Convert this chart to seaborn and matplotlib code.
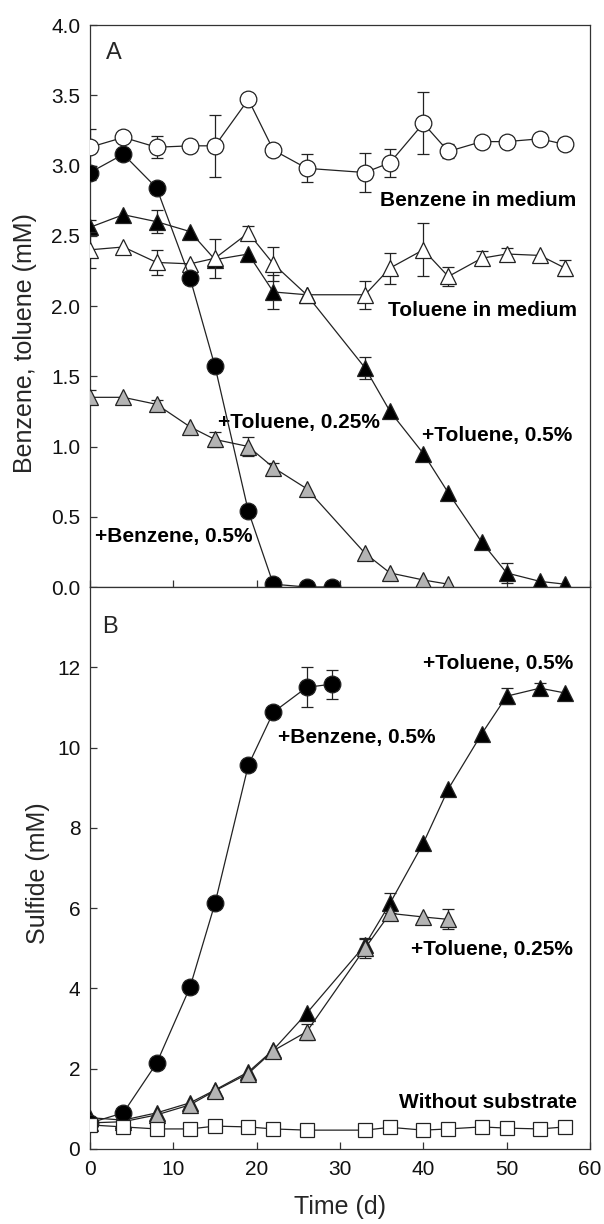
import numpy as np
import matplotlib
matplotlib.use("Agg")
import matplotlib.pyplot as plt
import seaborn as sns

# ---------------- data ----------------
days16 = [0, 4, 8, 12, 15, 19, 22, 26, 33, 36, 40, 43, 47, 50, 54, 57]
days12 = [0, 4, 8, 12, 15, 19, 22, 26, 33, 36, 40, 43]
days9 = [0, 4, 8, 12, 15, 19, 22, 26, 29]

# Panel A (mM)
benz_medium = [3.13, 3.20, 3.13, 3.14, 3.14, 3.47, 3.11, 2.98, 2.95, 3.02, 3.30, 3.10, 3.17, 3.17, 3.19, 3.15]
benz_medium_err = [0.13, 0, 0.08, 0.03, 0.22, 0, 0, 0.10, 0.14, 0.10, 0.22, 0.05, 0, 0, 0, 0]
tol_medium = [2.40, 2.42, 2.31, 2.30, 2.34, 2.52, 2.30, 2.08, 2.08, 2.27, 2.40, 2.21, 2.34, 2.37, 2.36, 2.27]
tol_medium_err = [0.13, 0, 0.09, 0, 0.14, 0.05, 0.12, 0, 0.10, 0.11, 0.19, 0.07, 0.05, 0.04, 0, 0.06]
tol05_A = [2.56, 2.65, 2.60, 2.53, 2.33, 2.37, 2.10, 2.08, 1.56, 1.25, 0.95, 0.67, 0.32, 0.10, 0.04, 0.02]
tol05_A_err = [0.05, 0, 0.08, 0, 0, 0, 0.12, 0, 0.08, 0, 0, 0, 0, 0.07, 0, 0]
tol025_A = [1.35, 1.35, 1.30, 1.14, 1.05, 1.00, 0.85, 0.70, 0.24, 0.10, 0.05, 0.02]
tol025_A_err = [0.05, 0, 0.03, 0, 0.05, 0.07, 0.03, 0, 0, 0, 0, 0]
benz05_A = [2.95, 3.08, 2.84, 2.20, 1.57, 0.54, 0.02, 0.0, 0.0]
benz05_A_err = [0.05, 0, 0, 0, 0, 0, 0, 0, 0]

# Panel B (mM sulfide)
benz05_B = [0.65, 0.90, 2.14, 4.03, 6.12, 9.56, 10.88, 11.50, 11.58]
benz05_B_err = [0, 0, 0, 0.15, 0, 0, 0, 0.50, 0.36]
tol05_B = [0.78, 0.72, 0.90, 1.15, 1.47, 1.92, 2.47, 3.38, 5.08, 6.12, 7.62, 8.97, 10.34, 11.28, 11.48, 11.36]
tol05_B_err = [0, 0, 0, 0, 0, 0, 0, 0, 0.15, 0.25, 0, 0, 0, 0.20, 0.12, 0]
tol025_B = [0.65, 0.68, 0.85, 1.10, 1.45, 1.88, 2.45, 2.92, 5.00, 5.87, 5.78, 5.72]
tol025_B_err = [0, 0, 0, 0, 0, 0, 0, 0.20, 0.25, 0, 0, 0.25]
no_substrate = [0.60, 0.55, 0.50, 0.50, 0.57, 0.55, 0.50, 0.47, 0.47, 0.54, 0.47, 0.50, 0.55, 0.52, 0.50, 0.55]

x_ticks = [0, 10, 20, 30, 40, 50, 60]
yA_ticks = [0.0, 0.5, 1.0, 1.5, 2.0, 2.5, 3.0, 3.5, 4.0]
yB_ticks = [0, 2, 4, 6, 8, 10, 12]

# ---------------- style ----------------
sns.set_style("ticks")
plt.rcParams["font.family"] = ["Liberation Sans", "DejaVu Sans"]
plt.rcParams["axes.edgecolor"] = "#333333"
plt.rcParams["axes.linewidth"] = 0.9

GREY = "#b4b4b4"
LINE = "#222222"
MS = 12

fig = plt.figure(figsize=(6.04, 12.24), dpi=100)
axA = fig.add_axes([90 / 604, 1 - 587 / 1224, 500 / 604, 562 / 1224])
axB = fig.add_axes([90 / 604, 1 - 1149 / 1224, 500 / 604, 562 / 1224])


def series(ax, x, y, err, marker, face, z, ms=MS):
    x = np.asarray(x, float)
    y = np.asarray(y, float)
    err = np.asarray(err, float)
    m = err > 0
    if m.any():
        ax.errorbar(x[m], y[m], yerr=err[m], fmt="none", ecolor=LINE,
                    elinewidth=0.9, capsize=4, capthick=0.9, zorder=z - 0.5)
    sns.lineplot(x=x, y=y, ax=ax, sort=False, color=LINE, lw=0.9,
                 marker=marker, markersize=ms, markerfacecolor=face,
                 markeredgecolor=LINE, markeredgewidth=0.9, zorder=z,
                 legend=False)


# Panel A
series(axA, days16, tol05_A, tol05_A_err, "^", "black", 3)
series(axA, days16, tol_medium, tol_medium_err, "^", "white", 4)
series(axA, days16, benz_medium, benz_medium_err, "o", "white", 5)
series(axA, days9, benz05_A, benz05_A_err, "o", "black", 6)
series(axA, days12, tol025_A, tol025_A_err, "^", GREY, 7)

# Panel B
series(axB, days16, tol05_B, tol05_B_err, "^", "black", 3)
series(axB, days12, tol025_B, tol025_B_err, "^", GREY, 4)
series(axB, days9, benz05_B, benz05_B_err, "o", "black", 5)
series(axB, days16, no_substrate, [0] * 16, "s", "white", 6, ms=9.5)

for ax in (axA, axB):
    ax.set_xlim(0, 60)
    ax.set_xticks(x_ticks)
    ax.tick_params(axis="both", direction="in", length=5, width=0.9,
                   labelsize=15, colors="#333333", labelcolor="#111111")
    ax.tick_params(axis="x", pad=8)
    ax.tick_params(axis="y", pad=7)
    for s in ax.spines.values():
        s.set_visible(True)
        s.set_color("#333333")
        s.set_linewidth(0.9)
    ax.set_xlabel("")

axA.set_ylim(0, 4.0)
axA.set_yticks(yA_ticks)
axA.set_yticklabels([f"{v:.1f}" for v in yA_ticks])
axA.tick_params(axis="x", labelbottom=False)
axA.set_ylabel("Benzene, toluene (mM)", fontsize=18)
axA.yaxis.set_label_coords(-0.106, 0.434)

axB.set_ylim(0, 14)
axB.set_yticks(yB_ticks)
axB.set_ylabel("Sulfide (mM)", fontsize=18)
axB.yaxis.set_label_coords(-0.08, 0.49)
axB.set_xlabel("Time (d)", fontsize=18)
axB.xaxis.set_label_coords(0.5, -0.082)

bold = dict(fontsize=15, fontweight="bold", color="black", va="center")
axA.text(2.8, 3.80, "A", fontsize=17, ha="center", va="center")
axA.text(58.4, 2.75, "Benzene in medium", ha="right", **bold)
axA.text(58.4, 1.97, "Toluene in medium", ha="right", **bold)
axA.text(15.4, 1.17, "+Toluene, 0.25%", ha="left", **bold)
axA.text(39.8, 1.08, "+Toluene, 0.5%", ha="left", **bold)
axA.text(0.6, 0.36, "+Benzene, 0.5%", ha="left", **bold)

axB.text(2.4, 13.0, "B", fontsize=17, ha="center", va="center")
axB.text(22.5, 10.25, "+Benzene, 0.5%", ha="left", **bold)
axB.text(58.0, 12.1, "+Toluene, 0.5%", ha="right", **bold)
axB.text(58.0, 4.96, "+Toluene, 0.25%", ha="right", **bold)
axB.text(58.4, 1.17, "Without substrate", ha="right", **bold)

fig.savefig("out.png", dpi=100)
